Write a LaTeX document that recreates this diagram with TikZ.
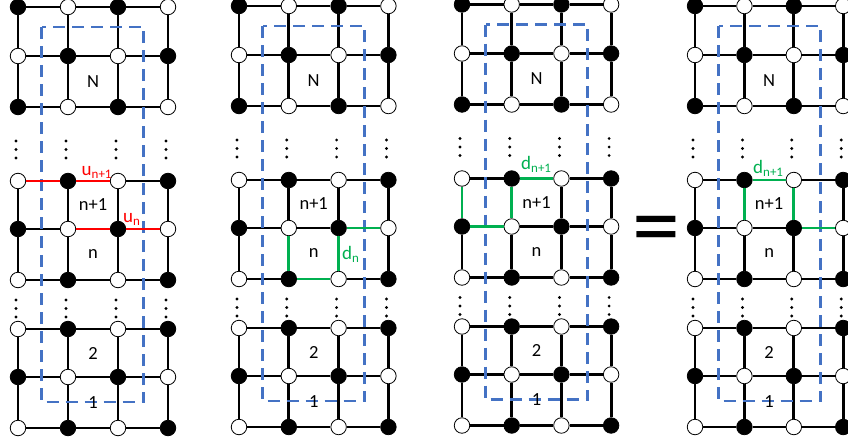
\documentclass[tikz,border=0pt]{standalone}
\usepackage{fontspec}
\setmainfont{Carlito}
\usetikzlibrary{calc}
\definecolor{dblue}{HTML}{4472C4}
\definecolor{ured}{HTML}{FF0000}
\definecolor{dgreen}{HTML}{00B050}
\begin{document}
\begin{tikzpicture}[x=1pt,y=-1pt,
 bn/.style={circle,draw=black,fill=black,line width=0.8pt,minimum size=15.5pt,inner sep=0pt},
 wn/.style={circle,draw=black,fill=white,line width=0.8pt,minimum size=15.5pt,inner sep=0pt},
 gridline/.style={line width=2.9pt,black},
 redge/.style={line width=2.9pt,ured},
 gedge/.style={line width=2.9pt,dgreen},
 boxline/.style={dblue,line width=2.8pt,dash pattern=on 12pt off 7pt},
 sq/.style={font=\fontsize{18.5}{18.5}\selectfont,inner sep=0pt},
 lab/.style={font=\fontsize{19}{19}\selectfont,inner sep=0pt,anchor=base west},
 vdot/.style={fill=black},
 ]
\useasboundingbox (0,0) rectangle (848,442);
% nodes
\foreach \p/\xo/\yo/\dx in {1/18/0/50, 2/239/-1/49.8, 3/462/-2.5/49.7, 4/695/-1/49.4} {
  \foreach \r/\ry/\s in {1/7/1, 2/56/0, 3/107/1, 4/181/0, 5/229/1, 6/280/0, 7/329/0, 8/377/1, 9/428/0} {
    \foreach \c in {1,...,4} {
      \pgfmathtruncatemacro\bb{mod(\s+\c,2)}
      \ifnum\bb=0
        \node[bn] (p\p-\r-\c) at ({\xo+(\c-1)*\dx},{\ry+\yo}) {};
      \else
        \node[wn] (p\p-\r-\c) at ({\xo+(\c-1)*\dx},{\ry+\yo}) {};
      \fi
    }
  }
  % horizontal edges
  \foreach \r in {1,...,9} {
    \foreach \c [evaluate=\c as \cn using int(\c+1)] in {1,2,3} {
      \draw[gridline] (p\p-\r-\c) -- (p\p-\r-\cn);
    }
  }
  % vertical edges
  \foreach \r/\rn in {1/2,2/3,4/5,5/6,7/8,8/9} {
    \foreach \c in {1,...,4} {
      \draw[gridline] (p\p-\r-\c) -- (p\p-\rn-\c);
    }
  }
  % vertical dots
  \foreach \c in {1,...,4} {
    \foreach \k in {0,1,2} {
      \fill[vdot] ($(p\p-4-\c)+(-2,{-40+\k*8.5})$) circle (1.6pt);
      \fill[vdot] ($(p\p-7-\c)+(-2,{-29+\k*8.5})$) circle (1.6pt);
    }
  }
  % dashed box
  \draw[boxline] ({\xo+23.5},{27+\yo}) rectangle ({\xo+125.5},{402+\yo});
  % square labels
  \node[sq] (N\p) at ($(p\p-2-2)!0.5!(p\p-3-3)$) {N};
  \node[sq] (A\p) at ($(p\p-4-2)!0.5!(p\p-5-3)$) {n+1};
  \node[sq] (B\p) at ($(p\p-5-2)!0.5!(p\p-6-3)$) {n};
  \node[sq] (C\p) at ($(p\p-7-2)!0.5!(p\p-8-3)$) {2};
  \node[sq] (D\p) at ($(p\p-8-2)!0.5!(p\p-9-3)$) {1};
}
% panel 1: red edges
\draw[redge] (p1-4-1) -- (p1-4-2);
\draw[redge] (p1-4-2) -- (p1-4-3);
\draw[redge] (p1-5-2) -- (p1-5-3);
\draw[redge] (p1-5-3) -- (p1-5-4);
\node[lab,text=ured] (u1) at (81.5,175) {u\raisebox{-3pt}{\fontsize{13}{13}\selectfont n+1}};
\node[lab,text=ured] (u0) at (123,222) {u\raisebox{-3pt}{\fontsize{13}{13}\selectfont n}};
% panel 2: green edges
\draw[gedge] (p2-5-2) -- (p2-6-2);
\draw[gedge] (p2-6-2) -- (p2-6-3);
\draw[gedge] (p2-5-3) -- (p2-6-3);
\draw[gedge] (p2-5-3) -- (p2-5-4);
\node[lab,text=dgreen] (d2) at (342,259) {d\raisebox{-3pt}{\fontsize{13}{13}\selectfont n}};
% panel 3: green edges
\draw[gedge] (p3-4-1) -- (p3-5-1);
\draw[gedge] (p3-4-2) -- (p3-5-2);
\draw[gedge] (p3-4-2) -- (p3-4-3);
\draw[gedge] (p3-5-1) -- (p3-5-2);
\node[lab,text=dgreen] (d3) at (521,169) {d\raisebox{-3pt}{\fontsize{13}{13}\selectfont n+1}};
% panel 4: green edges
\draw[gedge] (p4-4-2) -- (p4-4-3);
\draw[gedge] (p4-4-2) -- (p4-5-2);
\draw[gedge] (p4-4-3) -- (p4-5-3);
\draw[gedge] (p4-5-3) -- (p4-5-4);
\node[lab,text=dgreen] (d4) at (753,173) {d\raisebox{-3pt}{\fontsize{13}{13}\selectfont n+1}};
% equals sign
\node[inner sep=0pt,font=\fontsize{96}{96}\selectfont] (eq) at (656,237) {=};
\end{tikzpicture}
\end{document}
